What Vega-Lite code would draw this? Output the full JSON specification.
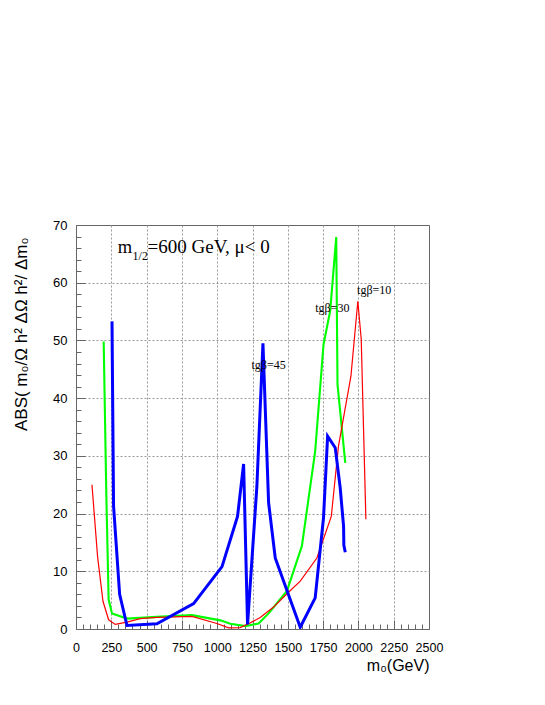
{
  "$schema": "https://vega.github.io/schema/vega-lite/v6.json",
  "width": 353,
  "height": 404,
  "autosize": {"type": "none"},
  "padding": {"left": 76, "top": 225, "right": 116, "bottom": 76},
  "background": "white",
  "config": {"view": {"stroke": "#666", "strokeWidth": 1}},
  "datasets": {
    "curves": [
      {"tanb": "30", "i": 1, "m0": 196, "v": 49.8},
      {"tanb": "30", "i": 2, "m0": 215, "v": 23},
      {"tanb": "30", "i": 3, "m0": 231, "v": 5.1},
      {"tanb": "30", "i": 4, "m0": 255, "v": 2.7},
      {"tanb": "30", "i": 5, "m0": 361, "v": 1.8},
      {"tanb": "30", "i": 6, "m0": 573, "v": 2.1},
      {"tanb": "30", "i": 7, "m0": 821, "v": 2.4},
      {"tanb": "30", "i": 8, "m0": 1022, "v": 1.5},
      {"tanb": "30", "i": 9, "m0": 1093, "v": 0.9},
      {"tanb": "30", "i": 10, "m0": 1199, "v": 0.5},
      {"tanb": "30", "i": 11, "m0": 1293, "v": 0.95},
      {"tanb": "30", "i": 12, "m0": 1364, "v": 2.7},
      {"tanb": "30", "i": 13, "m0": 1494, "v": 6.6},
      {"tanb": "30", "i": 14, "m0": 1600, "v": 14.4},
      {"tanb": "30", "i": 15, "m0": 1694, "v": 30.8},
      {"tanb": "30", "i": 16, "m0": 1753, "v": 49.3},
      {"tanb": "30", "i": 17, "m0": 1800, "v": 55.1},
      {"tanb": "30", "i": 18, "m0": 1843, "v": 67.9},
      {"tanb": "30", "i": 19, "m0": 1852, "v": 42.4},
      {"tanb": "30", "i": 20, "m0": 1907, "v": 28.8},
      {"tanb": "10", "i": 1, "m0": 113, "v": 25.0},
      {"tanb": "10", "i": 2, "m0": 153, "v": 12.5},
      {"tanb": "10", "i": 3, "m0": 191, "v": 4.8},
      {"tanb": "10", "i": 4, "m0": 231, "v": 1.6},
      {"tanb": "10", "i": 5, "m0": 278, "v": 0.8},
      {"tanb": "10", "i": 6, "m0": 361, "v": 1.2},
      {"tanb": "10", "i": 7, "m0": 455, "v": 1.8},
      {"tanb": "10", "i": 8, "m0": 573, "v": 2.0},
      {"tanb": "10", "i": 9, "m0": 821, "v": 2.2},
      {"tanb": "10", "i": 10, "m0": 998, "v": 0.95},
      {"tanb": "10", "i": 11, "m0": 1081, "v": 0.2},
      {"tanb": "10", "i": 12, "m0": 1163, "v": 0.25},
      {"tanb": "10", "i": 13, "m0": 1222, "v": 0.9},
      {"tanb": "10", "i": 14, "m0": 1305, "v": 2.0},
      {"tanb": "10", "i": 15, "m0": 1399, "v": 3.8},
      {"tanb": "10", "i": 16, "m0": 1494, "v": 6.1},
      {"tanb": "10", "i": 17, "m0": 1588, "v": 8.3},
      {"tanb": "10", "i": 18, "m0": 1706, "v": 12.3},
      {"tanb": "10", "i": 19, "m0": 1808, "v": 19.5},
      {"tanb": "10", "i": 20, "m0": 1859, "v": 31.7},
      {"tanb": "10", "i": 21, "m0": 1947, "v": 43.8},
      {"tanb": "10", "i": 22, "m0": 1996, "v": 56.8},
      {"tanb": "10", "i": 23, "m0": 2020, "v": 50.2},
      {"tanb": "10", "i": 24, "m0": 2053, "v": 19.0},
      {"tanb": "45", "i": 1, "m0": 255, "v": 53.3},
      {"tanb": "45", "i": 2, "m0": 266, "v": 21.3},
      {"tanb": "45", "i": 3, "m0": 309, "v": 6.0},
      {"tanb": "45", "i": 4, "m0": 361, "v": 0.6},
      {"tanb": "45", "i": 5, "m0": 573, "v": 0.9},
      {"tanb": "45", "i": 6, "m0": 833, "v": 4.4},
      {"tanb": "45", "i": 7, "m0": 1034, "v": 10.8},
      {"tanb": "45", "i": 8, "m0": 1144, "v": 19.5},
      {"tanb": "45", "i": 9, "m0": 1187, "v": 28.6},
      {"tanb": "45", "i": 10, "m0": 1215, "v": 0.8},
      {"tanb": "45", "i": 11, "m0": 1281, "v": 24.7},
      {"tanb": "45", "i": 12, "m0": 1324, "v": 49.5},
      {"tanb": "45", "i": 13, "m0": 1364, "v": 21.9},
      {"tanb": "45", "i": 14, "m0": 1411, "v": 12.3},
      {"tanb": "45", "i": 15, "m0": 1588, "v": 0.3},
      {"tanb": "45", "i": 16, "m0": 1694, "v": 5.4},
      {"tanb": "45", "i": 17, "m0": 1753, "v": 19.3},
      {"tanb": "45", "i": 18, "m0": 1782, "v": 33.4},
      {"tanb": "45", "i": 19, "m0": 1836, "v": 31.4},
      {"tanb": "45", "i": 20, "m0": 1871, "v": 24.5},
      {"tanb": "45", "i": 21, "m0": 1895, "v": 17.8},
      {"tanb": "45", "i": 22, "m0": 1897, "v": 14.5},
      {"tanb": "45", "i": 23, "m0": 1907, "v": 13.3}
    ],
    "labels": [
      {"text": "tgβ=45", "m0": 1364, "v": 45.1},
      {"text": "tgβ=30", "m0": 1815, "v": 55.0},
      {"text": "tgβ=10", "m0": 2112, "v": 58.0}
    ]
  },
  "encoding": {
    "x": {
      "field": "m0", "type": "quantitative",
      "scale": {"domain": [0, 2500], "nice": false, "zero": false},
      "axis": {
        "values": [0,50,100,150,200,250,300,350,400,450,500,550,600,650,700,750,800,850,900,950,1000,1050,1100,1150,1200,1250,1300,1350,1400,1450,1500,1550,1600,1650,1700,1750,1800,1850,1900,1950,2000,2050,2100,2150,2200,2250,2300,2350,2400,2450,2500],
        "format": "d",
        "labelExpr": "datum.value % 250 === 0 ? datum.label : ''",
        "labelOverlap": false,
        "labelFlush": false,
        "labelFont": "Liberation Sans",
        "labelFontSize": 12.5,
        "labelColor": "black",
        "labelPadding": 21,
        "tickSize": {"condition": {"test": "datum.value % 250 === 0", "value": -9}, "value": -5},
        "tickColor": "#666",
        "domainColor": "#666",
        "grid": true,
        "gridOpacity": {"condition": {"test": "datum.value % 250 === 0 && datum.value > 0 && datum.value < 2500", "value": 1}, "value": 0},
        "gridDash": [2, 2],
        "gridColor": "#999",
        "title": "m₀(GeV)",
        "titleAnchor": "end",
        "titleFont": "Liberation Sans",
        "titleFontSize": 16,
        "titleFontWeight": "normal",
        "titleColor": "black",
        "titlePadding": 0
      }
    },
    "y": {
      "field": "v", "type": "quantitative",
      "scale": {"domain": [0, 70], "nice": false},
      "axis": {
        "values": [0,2,4,6,8,10,12,14,16,18,20,22,24,26,28,30,32,34,36,38,40,42,44,46,48,50,52,54,56,58,60,62,64,66,68,70],
        "format": "d",
        "labelExpr": "datum.value % 10 === 0 ? datum.label : ''",
        "labelOverlap": false,
        "labelFlush": false,
        "labelFont": "Liberation Sans",
        "labelFontSize": 13,
        "labelColor": "black",
        "labelPadding": 18,
        "tickSize": {"condition": {"test": "datum.value % 10 === 0", "value": -9}, "value": -5},
        "tickColor": "#666",
        "domainColor": "#666",
        "grid": true,
        "gridOpacity": {"condition": {"test": "datum.value % 10 === 0 && datum.value > 0 && datum.value < 70", "value": 1}, "value": 0},
        "gridDash": [2, 2],
        "gridColor": "#999",
        "title": "ABS( m₀/Ω h²   ΔΩ h²/ Δm₀",
        "titleAlign": "right",
        "titleY": 12,
        "titleFont": "Liberation Sans",
        "titleFontSize": 17,
        "titleFontWeight": "normal",
        "titleColor": "black",
        "titlePadding": 22
      }
    }
  },
  "layer": [
    {
      "data": {"name": "curves"},
      "mark": {"type": "line", "strokeJoin": "miter", "clip": true},
      "encoding": {
        "color": {
          "field": "tanb", "type": "nominal",
          "scale": {"domain": ["10", "30", "45"], "range": ["#ff0000", "#00ff00", "#0000ff"]},
          "legend": null
        },
        "strokeWidth": {
          "field": "tanb", "type": "nominal",
          "scale": {"domain": ["10", "30", "45"], "range": [1.2, 3, 3]},
          "legend": null
        },
        "order": {"field": "i", "type": "quantitative"}
      }
    },
    {
      "data": {"name": "labels"},
      "mark": {"type": "text", "font": "Liberation Serif", "fontSize": 12, "align": "center", "baseline": "alphabetic", "color": "black"},
      "encoding": {
        "text": {"field": "text"}
      }
    },
    {
      "data": {"values": [{"m0": 295, "v": 65.1}]},
      "mark": {"type": "text", "font": "Liberation Serif", "fontSize": 18.5, "align": "left", "baseline": "alphabetic", "color": "black", "text": "m"},
      "encoding": {}
    },
    {
      "data": {"values": [{"m0": 401, "v": 64.0}]},
      "mark": {"type": "text", "font": "Liberation Serif", "fontSize": 12, "align": "left", "baseline": "alphabetic", "color": "black", "text": "1/2"},
      "encoding": {}
    },
    {
      "data": {"values": [{"m0": 507, "v": 65.1}]},
      "mark": {"type": "text", "font": "Liberation Serif", "fontSize": 19, "align": "left", "baseline": "alphabetic", "color": "black", "text": "=600 GeV, μ< 0"},
      "encoding": {}
    }
  ]
}
